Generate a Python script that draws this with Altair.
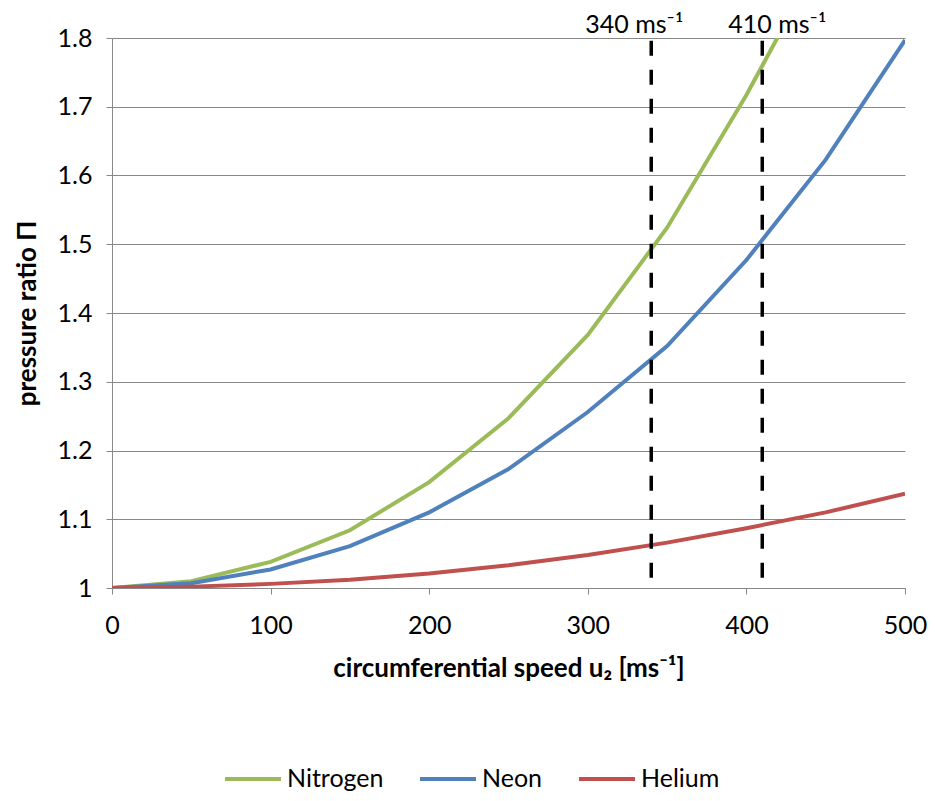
import altair as alt
import pandas as pd

speeds = [0, 50, 100, 150, 200, 250, 300, 350, 400, 450, 500]
nitrogen = [1.0, 1.01, 1.038, 1.084, 1.154, 1.247, 1.368, 1.524, 1.717, 1.93, 2.15]
neon = [1.0, 1.007, 1.027, 1.061, 1.110, 1.173, 1.256, 1.352, 1.477, 1.623, 1.797]
helium = [1.0, 1.002, 1.006, 1.012, 1.021, 1.033, 1.048, 1.066, 1.087, 1.110, 1.137]
series_names = ["Nitrogen", "Neon", "Helium"]
series_colors = ["#9BBB59", "#4F81BD", "#C0504D"]
marker_speeds = [340, 410]
marker_labels = ["340 ms⁻¹", "410 ms⁻¹"]

rows = []
for name, vals in zip(series_names, [nitrogen, neon, helium]):
    for s, v in zip(speeds, vals):
        rows.append({"speed": s, "ratio": v, "gas": name})
df = pd.DataFrame(rows)
mk = pd.DataFrame({"speed": marker_speeds, "label": marker_labels,
                   "y0": [1.015] * 2, "y1": [1.8] * 2})

FONT = "Lato"
xscale = alt.Scale(domain=[0, 500], nice=False)
yscale = alt.Scale(domain=[1.0, 1.8], nice=False)

lines = alt.Chart(df).mark_line(strokeWidth=4, clip=True).encode(
    x=alt.X("speed:Q", scale=xscale,
            axis=alt.Axis(title="circumferential speed u₂ [ms⁻¹]", values=[0, 100, 200, 300, 400, 500],
                          grid=False, tickSize=6, tickColor="#888888", domainColor="#888888",
                          labelFontSize=25, labelPadding=19, titleFontSize=26, titleFontWeight="bold",
                          titlePadding=17, labelColor="black", titleColor="black", labelFont=FONT,
                          titleFont=FONT, labelFlush=False)),
    y=alt.Y("ratio:Q", scale=yscale,
            axis=alt.Axis(title="pressure ratio Π", values=[1.0, 1.1, 1.2, 1.3, 1.4, 1.5, 1.6, 1.7, 1.8],
                          format="~g", grid=True, gridColor="#888888", gridWidth=1.2,
                          tickSize=6, tickColor="#888888", domainColor="#888888",
                          labelFontSize=25, labelPadding=14, titleFontSize=26, titleFontWeight="bold",
                          titlePadding=17, labelColor="black", titleColor="black", labelFont=FONT,
                          titleFont=FONT)),
    color=alt.Color("gas:N", scale=alt.Scale(domain=series_names, range=series_colors),
                    legend=alt.Legend(title=None, orient="none", direction="horizontal",
                                      legendX=111, legendY=711, symbolType="stroke",
                                      symbolSize=3136, symbolStrokeWidth=4, labelFontSize=25,
                                      labelFont=FONT, labelColor="black", columnPadding=28,
                                      labelOffset=4)),
    order="speed:Q",
)

rules = alt.Chart(mk).mark_rule(color="black", strokeWidth=3.5, strokeDash=[15, 14]).encode(
    x="speed:Q", y="y0:Q", y2="y1:Q")

label_a = alt.Chart(mk).transform_filter(alt.datum.speed == marker_speeds[0]).mark_text(
    fontSize=25, font=FONT, color="black", baseline="middle", dx=-17).encode(
    x="speed:Q", y=alt.value(-13), text="label:N")
label_b = alt.Chart(mk).transform_filter(alt.datum.speed == marker_speeds[1]).mark_text(
    fontSize=25, font=FONT, color="black", baseline="middle", dx=15).encode(
    x="speed:Q", y=alt.value(-13), text="label:N")

chart = alt.layer(lines, rules, label_a, label_b).properties(
    width=793, height=550,
    autosize=alt.AutoSizeParams(type="none"),
    padding={"left": 104, "top": 30, "right": 22, "bottom": 205},
).configure_view(stroke=None)

chart.save("out.html", embed_options={"renderer": "svg", "actions": False})
